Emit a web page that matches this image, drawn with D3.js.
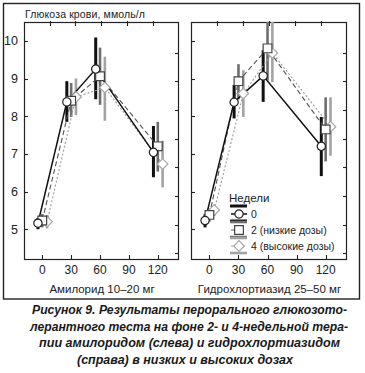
<!DOCTYPE html>
<html>
<head>
<meta charset="utf-8">
<script src="https://cdn.jsdelivr.net/npm/d3@7"></script>
<style>
  body { margin: 0; background: #fff; }
  text { font-family: "Liberation Sans", Arial, sans-serif; fill: #222; }
</style>
</head>
<body>
<div id="chart"></div>
<script>
// ----------------------
// Data
// ----------------------
const timePoints = [0, 30, 60, 120];
const xTickValues = [0, 30, 60, 90, 120];
const yTickValues = [5, 6, 7, 8, 9, 10];
const topTickValues = [8, 34.5, 61, 88, 115];
const rightTickValues = [9.69, 8.93, 8.17, 7.4, 6.64, 5.88, 5.12, 4.36];
const weekLabels = ["0", "2 (низкие дозы)", "4 (высокие дозы)"];

// Amiloride: mean, lower and upper end of error bar
const amilMean0 = [5.16, 8.38, 9.25, 7.04];
const amilLo0 = [5.0, 7.85, 8.45, 6.38];
const amilHi0 = [5.3, 8.93, 10.09, 7.74];
const amilMean2 = [5.23, 8.41, 9.06, 7.2];
const amilLo2 = [5.05, 7.98, 8.3, 6.53];
const amilHi2 = [5.4, 8.88, 9.82, 7.85];
const amilMean4 = [5.2, 8.51, 8.76, 6.73];
const amilLo4 = [5.02, 8.03, 7.88, 6.11];
const amilHi4 = [5.38, 9.0, 9.58, 7.35];

// Hydrochlorothiazide
const hctMean0 = [5.23, 8.37, 9.07, 7.2];
const hctLo0 = [5.05, 7.94, 8.38, 6.41];
const hctHi0 = [5.4, 8.83, 9.75, 7.98];
const hctMean2 = [5.38, 8.93, 9.8, 7.65];
const hctLo2 = [5.2, 8.45, 8.95, 6.8];
const hctHi2 = [5.55, 9.38, 10.6, 8.5];
const hctMean4 = [5.51, 8.6, 9.68, 7.72];
const hctLo4 = [5.35, 7.98, 8.9, 6.95];
const hctHi4 = [5.65, 9.22, 10.6, 8.5];

const yLabel = "Глюкоза крови, ммоль/л";
const legendTitle = "Недели";
const captionLines = [
  "Рисунок 9. Результаты перорального глюкозото-",
  "лерантного теста на фоне 2- и 4-недельной тера-",
  "пии амилоридом (слева) и гидрохлортиазидом",
  "(справа) в низких и высоких дозах"
];

// ----------------------
// Styles
// ----------------------
const seriesStyle = [
  { line: "#111", lw: 1.5, dash: null, bar: "#111", bw: 3, sym: d3.symbolCircle, size: 54, rot: 0, stroke: "#222", dx: -4.5 },
  { line: "#555", lw: 1.1, dash: "5,3", bar: "#6e6e6e", bw: 2.6, sym: d3.symbolSquare, size: 76, rot: 0, stroke: "#444", dx: 0 },
  { line: "#9a9a9a", lw: 1.1, dash: "2,2", bar: "#a3a3a3", bw: 2.6, sym: d3.symbolSquare, size: 56, rot: 45, stroke: "#a8a8a8", dx: 5 }
];

const panels = [
  { title: "Амилорид 10–20 мг", x0: 24, x1: 178,
    series: [[amilMean0, amilLo0, amilHi0], [amilMean2, amilLo2, amilHi2], [amilMean4, amilLo4, amilHi4]] },
  { title: "Гидрохлортиазид 25–50 мг", x0: 191, x1: 346, legend: true,
    series: [[hctMean0, hctLo0, hctHi0], [hctMean2, hctLo2, hctHi2], [hctMean4, hctLo4, hctHi4]] }
];

const W = 365, H = 373;
const plotTop = 22, plotBottom = 259;

const svg = d3.select("#chart").append("svg")
  .attr("width", W).attr("height", H);

// outer frame
svg.append("rect")
  .attr("x", 3.5).attr("y", 3.5).attr("width", 356).attr("height", 295.5)
  .attr("fill", "none").attr("stroke", "#222").attr("stroke-width", 1.4);

const y = d3.scaleLinear().domain([4.21, 10.5]).range([plotBottom, plotTop]);

svg.append("text")
  .attr("x", 25).attr("y", 18)
  .attr("font-size", 10.5)
  .attr("textLength", 120)
  .text(yLabel);

panels.forEach((p, pi) => {
  const x = d3.scaleLinear().domain([-19, 141]).range([p.x0, p.x1]);
  const g = svg.append("g");

  const clipId = "clip" + pi;
  svg.append("clipPath").attr("id", clipId)
    .append("rect")
    .attr("x", p.x0).attr("y", plotTop)
    .attr("width", p.x1 - p.x0).attr("height", plotBottom - plotTop);

  // plot border
  g.append("rect")
    .attr("x", p.x0 + 0.5).attr("y", plotTop + 0.5)
    .attr("width", p.x1 - p.x0).attr("height", plotBottom - plotTop)
    .attr("fill", "none").attr("stroke", "#222").attr("stroke-width", 1.2);

  // inward ticks
  g.selectAll(".bt").data(xTickValues).enter().append("line")
    .attr("x1", d => Math.round(x(d)) + 0.5).attr("x2", d => Math.round(x(d)) + 0.5)
    .attr("y1", plotBottom).attr("y2", plotBottom - 4)
    .attr("stroke", "#222").attr("stroke-width", 1.1);
  g.selectAll(".tt").data(topTickValues).enter().append("line")
    .attr("x1", d => Math.round(x(d)) + 0.5).attr("x2", d => Math.round(x(d)) + 0.5)
    .attr("y1", plotTop - 1).attr("y2", plotTop + 4)
    .attr("stroke", "#222").attr("stroke-width", 1.1);
  g.selectAll(".lt").data(yTickValues).enter().append("line")
    .attr("x1", p.x0).attr("x2", p.x0 + 4)
    .attr("y1", d => Math.round(y(d)) + 0.5).attr("y2", d => Math.round(y(d)) + 0.5)
    .attr("stroke", "#222").attr("stroke-width", 1.1);
  g.selectAll(".rt").data(rightTickValues).enter().append("line")
    .attr("x1", p.x1 - 3).attr("x2", p.x1 + 1)
    .attr("y1", d => Math.round(y(d)) + 0.5).attr("y2", d => Math.round(y(d)) + 0.5)
    .attr("stroke", "#222").attr("stroke-width", 1.1);

  // tick labels
  g.selectAll(".xl").data(xTickValues).enter().append("text")
    .attr("x", d => x(d)).attr("y", 274)
    .attr("text-anchor", "middle").attr("font-size", 12)
    .text(d => d);
  if (pi === 0) {
    g.selectAll(".yl").data(yTickValues).enter().append("text")
      .attr("x", 18).attr("y", d => y(d) + 4.5)
      .attr("text-anchor", "end").attr("font-size", 12.5)
      .text(d => d);
  }

  g.append("text")
    .attr("x", (p.x0 + p.x1) / 2 + 1).attr("y", 293)
    .attr("text-anchor", "middle").attr("font-size", 11.5)
    .text(p.title);

  const data = g.append("g").attr("clip-path", `url(#${clipId})`);

  // error bars (back series first)
  [2, 1, 0].forEach(si => {
    const st = seriesStyle[si];
    const [mean, lo, hi] = p.series[si];
    data.selectAll(null).data(timePoints).enter().append("line")
      .attr("x1", d => x(d + st.dx)).attr("x2", d => x(d + st.dx))
      .attr("y1", (d, i) => y(lo[i])).attr("y2", (d, i) => y(hi[i]))
      .attr("stroke", st.bar).attr("stroke-width", st.bw);
  });

  // connecting lines
  [2, 1, 0].forEach(si => {
    const st = seriesStyle[si];
    const mean = p.series[si][0];
    const line = d3.line()
      .x(d => x(d + st.dx))
      .y((d, i) => y(mean[i]));
    data.append("path")
      .attr("d", line(timePoints))
      .attr("fill", "none")
      .attr("stroke", st.line).attr("stroke-width", st.lw)
      .attr("stroke-dasharray", st.dash);
  });

  // markers
  [2, 1, 0].forEach(si => {
    const st = seriesStyle[si];
    const mean = p.series[si][0];
    data.selectAll(null).data(timePoints).enter().append("path")
      .attr("d", d3.symbol().type(st.sym).size(st.size))
      .attr("transform", (d, i) => `translate(${x(d + st.dx)},${y(mean[i])}) rotate(${st.rot})`)
      .attr("fill", "#fff").attr("stroke", st.stroke).attr("stroke-width", 1.2);
  });

  // legend
  if (p.legend) {
    const lg = g.append("g");
    lg.append("text").attr("x", 229).attr("y", 202)
      .attr("font-size", 11.5).text(legendTitle);
    weekLabels.forEach((lab, si) => {
      const st = seriesStyle[si];
      const cy = 214 + si * 16;
      [cy - 8, cy + 7].forEach(by => {
        lg.append("line")
          .attr("x1", 230).attr("x2", 247).attr("y1", by).attr("y2", by)
          .attr("stroke", st.bar).attr("stroke-width", st.bw);
      });
      lg.append("line")
        .attr("x1", 231).attr("x2", 247).attr("y1", cy).attr("y2", cy)
        .attr("stroke", st.line).attr("stroke-width", st.lw)
        .attr("stroke-dasharray", st.dash);
      lg.append("path")
        .attr("d", d3.symbol().type(st.sym).size(st.size))
        .attr("transform", `translate(239,${cy}) rotate(${st.rot})`)
        .attr("fill", "#fff").attr("stroke", st.stroke).attr("stroke-width", 1.2);
      lg.append("text").attr("x", 251).attr("y", cy + 4)
        .attr("font-size", 10.5).text(lab);
    });
  }
});

// caption
const capX = [[32, 347], [30, 348], [39, 340], [77, 293]];
svg.selectAll(".cap").data(captionLines).enter().append("text")
  .attr("x", (d, i) => capX[i][0])
  .attr("y", (d, i) => 314 + i * 16.6)
  .attr("textLength", (d, i) => capX[i][1] - capX[i][0])
  .attr("lengthAdjust", "spacingAndGlyphs")
  .attr("font-size", 12.5)
  .attr("font-weight", "bold")
  .attr("font-style", "italic")
  .style("fill", "#1a1a1a")
  .text(d => d);
</script>
</body>
</html>
